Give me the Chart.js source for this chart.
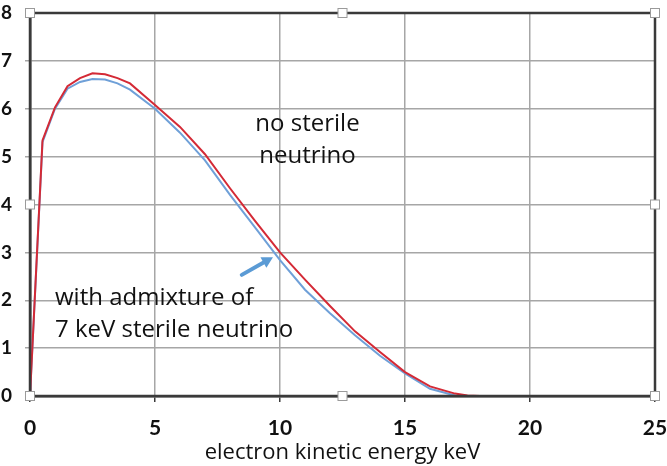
<!DOCTYPE html>
<html>
<head>
<meta charset="utf-8">
<script src="https://cdn.jsdelivr.net/npm/chart.js@4"></script>
<style>
  html, body { margin: 0; padding: 0; background: #fff; }
  .wrap { width: 667px; height: 466px; }
</style>
</head>
<body>
<div class="wrap"><canvas id="chartCanvas" width="667" height="466"></canvas></div>
<script>
        // energia (keV) e spettri
        const energyNoSterile = [0, 0.5, 1, 1.5, 2, 2.5, 3, 3.5, 4, 5, 6, 7, 8, 9, 10, 11, 12, 13, 14, 15, 16, 17, 17.5, 18];
        const noSterile       = [0, 5.34, 6.03, 6.47, 6.64, 6.74, 6.72, 6.64, 6.53, 6.08, 5.62, 5.05, 4.34, 3.66, 3.0, 2.43, 1.88, 1.35, 0.92, 0.5, 0.2, 0.05, 0.01, 0];
        const energySterile   = [0, 0.5, 1, 1.5, 2, 2.5, 3, 3.5, 4, 5, 6, 7, 8, 9, 10, 11, 12, 13, 14, 15, 16, 17, 17.3];
        const withSterile     = [0, 5.3, 6.0, 6.42, 6.56, 6.62, 6.61, 6.53, 6.4, 6.0, 5.5, 4.92, 4.2, 3.52, 2.84, 2.22, 1.73, 1.27, 0.84, 0.47, 0.15, 0.01, 0];

        const xTicks = [0, 5, 10, 15, 20, 25];
        const yTicks = [0, 1, 2, 3, 4, 5, 6, 7, 8];
        const xTitle = 'electron kinetic energy keV';

        // testi sul grafico (coordinate nei valori degli assi)
        const notes = [
            { text: 'no sterile', x: 11.1, y: 5.68, align: 'center' },
            { text: 'neutrino', x: 11.1, y: 5.0, align: 'center' },
            { text: 'with admixture of', x: 1.0, y: 2.05, align: 'left' },
            { text: '7 keV sterile neutrino', x: 1.0, y: 1.38, align: 'left' }
        ];
        const arrow = { from: [8.47, 2.53], to: [9.72, 2.9] };

        const extras = {
            id: 'extras',
            afterDatasetsDraw(chart) {
                const { ctx, chartArea: a, scales: { x, y } } = chart;
                ctx.save();
                // bordo superiore e destro
                ctx.strokeStyle = '#3a3a3a';
                ctx.lineWidth = 2.5;
                ctx.strokeRect(a.left, a.top, a.right - a.left, a.bottom - a.top);

                // testi
                ctx.fillStyle = '#111';
                ctx.font = '24px "Open Sans"';
                ctx.textBaseline = 'middle';
                notes.forEach(n => {
                    ctx.textAlign = n.align;
                    ctx.fillText(n.text, x.getPixelForValue(n.x), y.getPixelForValue(n.y));
                });

                // freccia
                const x1 = x.getPixelForValue(arrow.from[0]), y1 = y.getPixelForValue(arrow.from[1]);
                const x2 = x.getPixelForValue(arrow.to[0]), y2 = y.getPixelForValue(arrow.to[1]);
                const ang = Math.atan2(y2 - y1, x2 - x1);
                const hl = 11;
                ctx.strokeStyle = '#5b9bd5';
                ctx.fillStyle = '#5b9bd5';
                ctx.lineWidth = 4;
                ctx.lineCap = 'round';
                ctx.beginPath();
                ctx.moveTo(x1, y1);
                ctx.lineTo(x2 - hl * 0.8 * Math.cos(ang), y2 - hl * 0.8 * Math.sin(ang));
                ctx.stroke();
                ctx.beginPath();
                ctx.moveTo(x2, y2);
                ctx.lineTo(x2 - hl * Math.cos(ang) + 6 * Math.sin(ang), y2 - hl * Math.sin(ang) - 6 * Math.cos(ang));
                ctx.lineTo(x2 - hl * Math.cos(ang) - 6 * Math.sin(ang), y2 - hl * Math.sin(ang) + 6 * Math.cos(ang));
                ctx.closePath();
                ctx.fill();

                // maniglie di selezione
                const mx = (a.left + a.right) / 2, my = (a.top + a.bottom) / 2;
                const pts = [[a.left, a.top], [mx, a.top], [a.right, a.top], [a.left, my], [a.right, my],
                             [a.left, a.bottom], [mx, a.bottom], [a.right, a.bottom]];
                ctx.lineWidth = 1;
                ctx.strokeStyle = '#9a9a9a';
                ctx.fillStyle = '#fff';
                pts.forEach(p => {
                    ctx.fillRect(p[0] - 4.5, p[1] - 4.5, 9, 9);
                    ctx.strokeRect(p[0] - 4.5, p[1] - 4.5, 9, 9);
                });
                ctx.restore();
            }
        };

        const ctx = document.getElementById('chartCanvas').getContext('2d');
        const chart = new Chart(ctx, {
            type: 'line',
            data: {
                datasets: [
                    {
                        label: 'no sterile neutrino',
                        data: energyNoSterile.map((e, i) => ({ x: e, y: noSterile[i] })),
                        borderColor: '#d42a36',
                        borderWidth: 2,
                        pointRadius: 0,
                        tension: 0
                    },
                    {
                        label: 'with admixture of 7 keV sterile neutrino',
                        data: energySterile.map((e, i) => ({ x: e, y: withSterile[i] })),
                        borderColor: '#6fa0d8',
                        borderWidth: 2,
                        pointRadius: 0,
                        tension: 0
                    }
                ]
            },
            options: {
                responsive: false,
                animation: false,
                layout: { padding: { top: 13, right: 12, left: 0, bottom: 0 } },
                plugins: {
                    legend: { display: false },
                    tooltip: { enabled: false }
                },
                scales: {
                    x: {
                        type: 'linear',
                        min: 0,
                        max: 25,
                        afterBuildTicks: axis => { axis.ticks = xTicks.map(v => ({ value: v })); },
                        grid: { color: '#a6a6a6', lineWidth: 1.5, tickLength: 6, tickColor: '#3a3a3a' },
                        border: { color: '#3a3a3a', width: 2.5 },
                        ticks: {
                            padding: 14,
                            color: '#111',
                            font: { family: 'Lato', size: 21, weight: 'bold' }
                        },
                        title: {
                            display: true,
                            text: xTitle,
                            color: '#111',
                            padding: { top: 0, bottom: 0 },
                            font: { family: 'Open Sans', size: 22 }
                        },
                        afterFit: s => { s.height = 70; s.paddingLeft = 0; s.paddingRight = 0; }
                    },
                    y: {
                        min: 0,
                        max: 8,
                        afterBuildTicks: axis => { axis.ticks = yTicks.map(v => ({ value: v })); },
                        grid: { color: '#a6a6a6', lineWidth: 1.5, tickLength: 5 },
                        border: { color: '#3a3a3a', width: 2.5 },
                        ticks: {
                            padding: 13,
                            color: '#111',
                            font: { family: 'Lato', size: 19, weight: 'bold' }
                        },
                        afterFit: s => { s.width = 30; s.paddingTop = 0; s.paddingBottom = 0; }
                    }
                }
            },
            plugins: [extras]
        });
</script>
</body>
</html>
